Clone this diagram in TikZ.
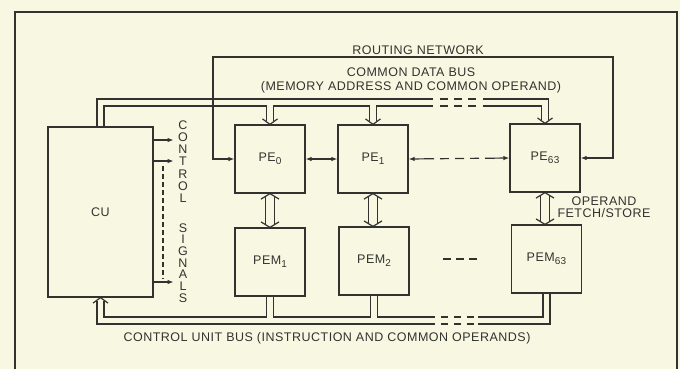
\documentclass[tikz,border=0pt]{standalone}
\usepackage{fontspec}
\setmainfont{Liberation Sans}[LetterSpace=4]
\usetikzlibrary{arrows.meta}
\definecolor{paper}{RGB}{248,248,226}
\definecolor{ink}{RGB}{50,50,48}
\newcommand\lsub[1]{\raisebox{-0.45ex}{\fontsize{10}{10}\selectfont #1}}
\begin{document}
\begin{tikzpicture}[x=1pt, y=-1pt, line width=1.2pt, color=ink, font=\fontsize{12.5}{14}\selectfont,
  box/.style={draw, minimum width=70pt, minimum height=68pt, inner sep=0pt},
  bus/.style={double=paper, double distance=5.8pt},
  wide/.style={double=paper, double distance=8pt, shorten <=2.7pt, shorten >=2.7pt},
  busfill/.style={draw=paper, line width=5.8pt},
  chevn/.pic={\draw (-7.5,-5.5) -- (0,0) -- (7.5,-5.5);},
  chevw/.pic={\draw (-9,-5.5) -- (0,0) -- (9,-5.5);},
  sig/.style={-{Latex[length=6pt,width=4.5pt]}},
  sig2/.style={{Latex[length=6pt,width=4.5pt]}-{Latex[length=6pt,width=4.5pt]}}]
\fill[paper] (0,0) rectangle (680,369);
\draw (15,369) -- (15,12) -- (677,12) -- (677,369);
% units
\node[box, minimum width=105pt, minimum height=170pt] (CU) at (100.5,212) {CU};
\node[box] (PE0) at (270,159) {PE\lsub{0}};
\node[box] (PE1) at (373,159) {PE\lsub{1}};
\node[box] (PE63) at (545,158) {PE\lsub{63}};
\node[box] (PEM1) at (270,262) {PEM\lsub{1}};
\node[box] (PEM2) at (374,261) {PEM\lsub{2}};
\node[box] (PEM63) at (546.5,259) {PEM\lsub{63}};
\coordinate (dbus) at (330,102.5);
\coordinate (cbus) at (330,320.5);
\coordinate (rnR) at (613,57);
\coordinate (rnL) at (213,57);
% common data bus
\draw[bus, shorten >=3pt] (CU.north) |- (dbus) -| (PE63.north);
\draw[bus, shorten >=3pt] (PE0.north |- dbus) -- (PE0.north);
\draw[bus, shorten >=3pt] (PE1.north |- dbus) -- (PE1.north);
\draw[busfill] (CU.north |- dbus) -- (PE63.north |- dbus);
\pic at (PE0.north) {chevn};
\pic at (PE1.north) {chevn};
\pic at (PE63.north) {chevn};
\fill[paper] (433,97) rectangle (483,108);
\draw[dash pattern=on 8pt off 6pt] (440,99) -- (476,99);
\draw[dash pattern=on 8pt off 6pt] (440,106) -- (476,106);
\node[align=center] (cdb) at (411,80) {COMMON DATA BUS\\(MEMORY ADDRESS AND COMMON OPERAND)};
% control unit bus
\draw[bus, shorten >=3pt] (PEM63.south) |- (cbus) -| (CU.south);
\draw[bus] (PEM1.south) -- (PEM1.south |- cbus);
\draw[bus] (PEM2.south) -- (PEM2.south |- cbus);
\draw[busfill] (CU.south |- cbus) -- (PEM63.south |- cbus);
\pic[rotate=180] at (CU.south) {chevn};
\fill[paper] (435,315) rectangle (478,326);
\draw[dash pattern=on 7pt off 6pt] (441,317) -- (474,317);
\draw[dash pattern=on 7pt off 6pt] (441,324) -- (474,324);
\node (cub) at (327,338) {CONTROL UNIT BUS (INSTRUCTION AND COMMON OPERANDS)};
% PE <-> PEM
\draw[wide] (PE0.south) -- (PEM1.north);
\draw[wide] (PE1.south) -- (PE1.south |- PEM2.north);
\draw[wide] (PE63.south) -- (PE63.south |- PEM63.north);
\pic[rotate=180] at (PE0.south) {chevw};
\pic at (PEM1.north) {chevw};
\pic[rotate=180] at (PE1.south) {chevw};
\pic at (PE1.south |- PEM2.north) {chevw};
\pic[rotate=180] at (PE63.south) {chevw};
\pic at (PE63.south |- PEM63.north) {chevw};
\node[align=center, font=\fontsize{12.5}{12.5}\selectfont] (ofs) at (604,207) {OPERAND\\FETCH/STORE};
\draw[dash pattern=on 8pt off 5pt] (443,259) -- (477,259);
% routing network
\draw[sig2] (PE63.east) -| (rnR) -- (rnL) |- (PE0.west);
\node (rn) at (418,50) {ROUTING NETWORK};
\draw[sig2] (PE0.east) -- (PE1.west);
\draw[sig2, dash pattern=on 20pt off 6pt on 9pt off 6pt on 9pt off 6pt on 9pt off 6pt on 40pt] (PE1.east) -- (PE63.west);
% control signals
\draw[sig] (CU.east |- 0,140) -- ++(20,0);
\draw[sig] (CU.east |- 0,161) -- ++(20,0);
\draw[sig] (CU.east |- 0,282) -- ++(20,0);
\draw[dash pattern=on 5pt off 3pt] (163,166) -- (163,279);
\node[align=center, anchor=north, inner sep=0pt, font=\fontsize{12.5}{12.2}\selectfont] (ctl) at (183,120) {C\\O\\N\\T\\R\\O\\L};
\node[align=center, anchor=south, inner sep=0pt, font=\fontsize{12.5}{11.7}\selectfont] (sgn) at (183,303) {S\\I\\G\\N\\A\\L\\S};
\end{tikzpicture}
\end{document}
